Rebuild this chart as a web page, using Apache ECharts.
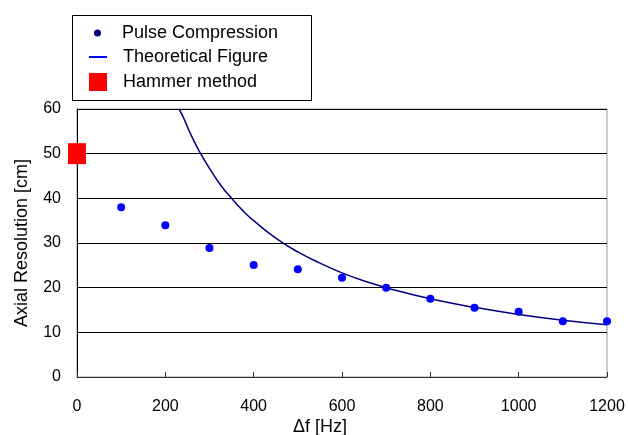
<!DOCTYPE html>
<html>
<head>
<meta charset="utf-8">
<script src="https://cdn.jsdelivr.net/npm/echarts@6/dist/echarts.min.js"></script>
<style>
  html, body { margin: 0; padding: 0; background: #fff; }
  #main { width: 628px; height: 435px; }
</style>
</head>
<body>
<div id="main"></div>
<script>
// measured points (Δf [Hz], resolution [cm])
var pulseF = [100, 200, 300, 400, 500, 600, 700, 800, 900, 1000, 1100, 1200];
var pulseR = [38, 34, 28.9, 25.1, 24.1, 22.2, 20, 17.5, 15.5, 14.6, 12.5, 12.5];

// theoretical curve
var theoF = [231, 240, 260, 280, 300, 325, 350, 375, 400, 450, 500, 550, 600, 650, 700, 800, 900, 1000, 1100, 1200];
var theoR = [60, 58.3, 53.8, 50, 46.7, 43, 40, 37.3, 35, 31.1, 28, 25.5, 23.3, 21.5, 20, 17.5, 15.6, 14, 12.7, 11.7];

var hammerF = [0];
var hammerR = [50];

var xTicks = [0, 200, 400, 600, 800, 1000, 1200];
var yTicks = [0, 10, 20, 30, 40, 50, 60];

function pairs(xs, ys) {
    return xs.map(function (x, i) { return [x, ys[i]]; });
}

var font = 'Liberation Sans';
var chart = echarts.init(document.getElementById('main'));

chart.setOption({
    animation: false,
    textStyle: { fontFamily: font },
    grid: {
        left: 77, right: 21, top: 109, bottom: 58,
        outerBoundsMode: 'none', containLabel: false,
        show: true, borderColor: '#999', borderWidth: 1
    },
    legend: [
        {
            data: [{ name: 'Pulse Compression', itemStyle: { color: '#000080' } }],
            icon: 'circle', itemWidth: 7, itemHeight: 7,
            left: 94, top: 24, padding: 0,
            textStyle: { fontSize: 18, color: '#000', padding: [0, 0, 0, 16] }
        },
        {
            data: [{ name: 'Theoretical Figure', itemStyle: { color: '#0000ff' } }],
            icon: 'rect', itemWidth: 18, itemHeight: 2,
            left: 89, top: 48, padding: 0,
            textStyle: { fontSize: 18, color: '#000', padding: [0, 0, 0, 11] }
        },
        {
            data: [{ name: 'Hammer method', itemStyle: { color: '#ff0000', opacity: 1 } }],
            icon: 'rect', itemWidth: 18, itemHeight: 18,
            left: 89, top: 73, padding: 0,
            textStyle: { fontSize: 18, color: '#000', padding: [0, 0, 0, 11] }
        }
    ],
    graphic: [{
        type: 'rect',
        left: 70, top: 13,
        shape: { width: 239, height: 85 },
        style: { fill: 'none', stroke: '#000', lineWidth: 1 },
        z: 10
    }],
    xAxis: {
        type: 'value',
        min: xTicks[0], max: xTicks[xTicks.length - 1], interval: 200,
        name: 'Δf [Hz]',
        nameLocation: 'middle', nameGap: 41, nameMoveOverlap: false,
        nameTextStyle: { fontSize: 18, color: '#000', padding: [0, 44, 0, 0] },
        axisLine: { lineStyle: { color: '#333', width: 1 } },
        axisTick: { inside: true, length: 5, lineStyle: { color: '#333' } },
        axisLabel: { fontSize: 16, color: '#000', margin: 22, formatter: function (v) { return String(v); } },
        splitLine: { show: false }
    },
    yAxis: {
        type: 'value',
        min: yTicks[0], max: yTicks[yTicks.length - 1], interval: 10,
        name: 'Axial Resolution [cm]',
        nameLocation: 'middle', nameGap: 46, nameMoveOverlap: false,
        nameTextStyle: { fontSize: 18, color: '#000' },
        axisLine: { show: true, lineStyle: { color: '#000', width: 1 } },
        axisTick: { show: false },
        axisLabel: { fontSize: 16, color: '#000', margin: 16, lineHeight: 20, verticalAlign: 'middle', padding: [4, 0, 0, 0] },
        splitLine: { lineStyle: { color: '#000', width: 1 } }
    },
    series: [
        {
            name: 'Pulse Compression',
            type: 'scatter',
            symbol: 'circle', symbolSize: 8,
            itemStyle: { color: '#0000ff', opacity: 1 },
            data: pairs(pulseF, pulseR),
            z: 4
        },
        {
            name: 'Theoretical Figure',
            type: 'line',
            smooth: true, showSymbol: false,
            lineStyle: { color: '#000080', width: 1.5 },
            itemStyle: { color: '#0000ff' },
            data: pairs(theoF, theoR),
            z: 3
        },
        {
            name: 'Hammer method',
            type: 'scatter',
            symbol: 'rect', symbolSize: [18, 21],
            itemStyle: { color: '#ff0000', opacity: 1 },
            data: pairs(hammerF, hammerR),
            clip: false,
            z: 5
        }
    ]
});
</script>
</body>
</html>
